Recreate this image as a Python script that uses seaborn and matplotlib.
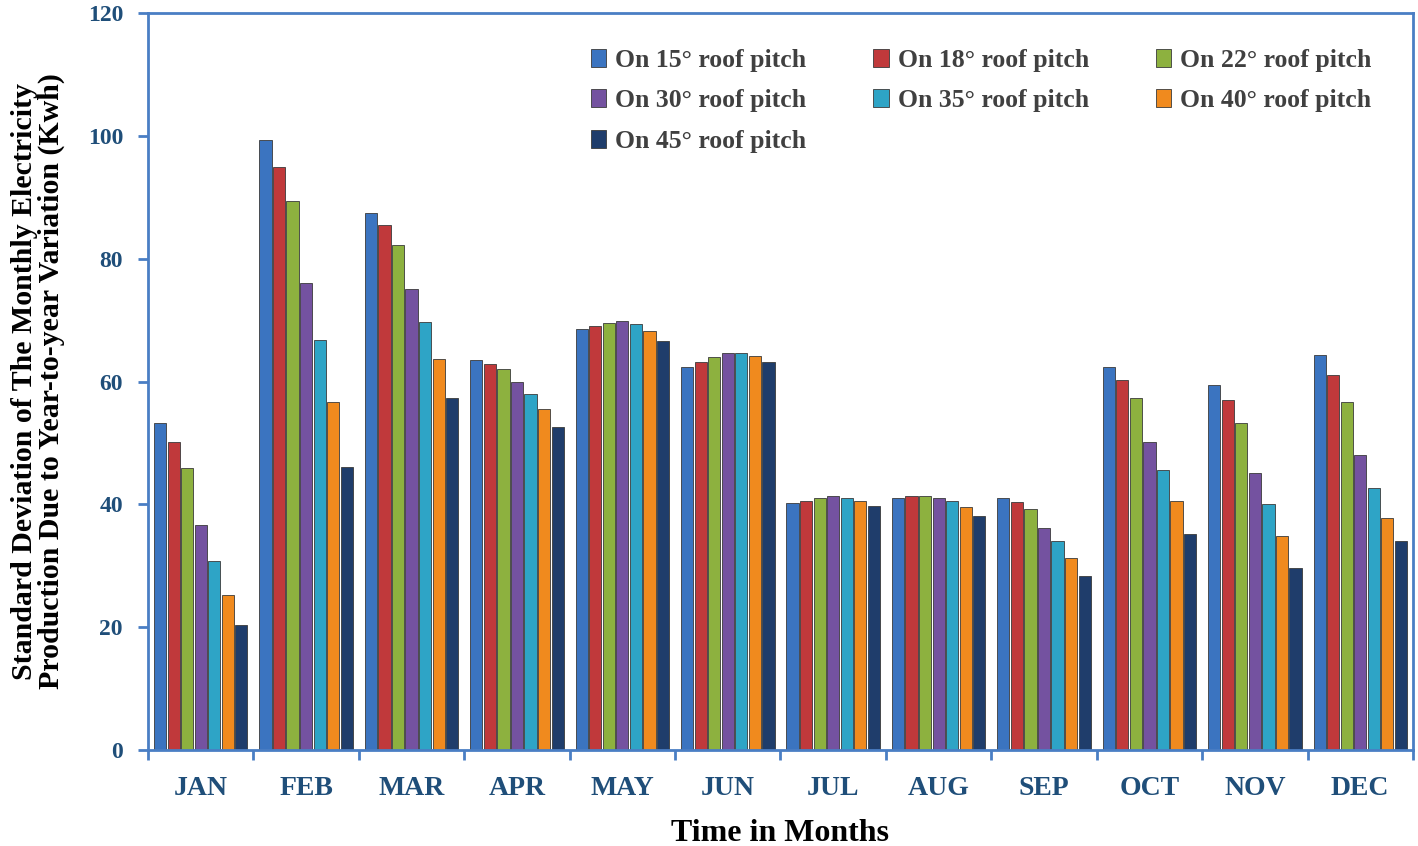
import numpy as np
import pandas as pd
import matplotlib
matplotlib.use("Agg")
import matplotlib.pyplot as plt
import seaborn as sns

months = ["JAN", "FEB", "MAR", "APR", "MAY", "JUN", "JUL", "AUG", "SEP", "OCT", "NOV", "DEC"]
series_names = ["On 15° roof pitch", "On 18° roof pitch", "On 22° roof pitch",
                "On 30° roof pitch", "On 35° roof pitch", "On 40° roof pitch",
                "On 45° roof pitch"]

pitch15 = [53.2, 99.3, 87.4, 63.5, 68.5, 62.4, 40.2, 41.1, 41.1, 62.4, 59.4, 64.3]
pitch18 = [50.2, 95.0, 85.5, 62.8, 69.1, 63.2, 40.5, 41.4, 40.3, 60.2, 57.0, 61.1]
pitch22 = [45.9, 89.4, 82.3, 62.1, 69.6, 64.0, 41.1, 41.4, 39.2, 57.3, 53.2, 56.7]
pitch30 = [36.7, 76.1, 75.0, 59.9, 69.9, 64.7, 41.4, 41.1, 36.2, 50.2, 45.1, 48.0]
pitch35 = [30.8, 66.8, 69.7, 58.0, 69.4, 64.7, 41.1, 40.5, 34.0, 45.6, 40.0, 42.6]
pitch40 = [25.2, 56.7, 63.7, 55.6, 68.3, 64.2, 40.5, 39.5, 31.3, 40.5, 34.8, 37.7]
pitch45 = [20.3, 46.1, 57.3, 52.6, 66.6, 63.2, 39.7, 38.1, 28.4, 35.1, 29.7, 34.0]

colors = ["#3B74C0", "#C0393B", "#8DB13F", "#7452A0", "#2EA4C6", "#F08A1E", "#1F3D6B"]

all_series = [pitch15, pitch18, pitch22, pitch30, pitch35, pitch40, pitch45]
rows = []
for name, vals in zip(series_names, all_series):
    for m, v in zip(months, vals):
        rows.append({"Month": m, "Series": name, "Value": v})
df = pd.DataFrame(rows)

sns.set_theme(style="white")
plt.rcParams["font.family"] = ["Liberation Serif", "DejaVu Serif"]

fig = plt.figure(figsize=(14.18, 8.46), dpi=100)
ax = fig.add_axes([148/1418, 1-750/846, (1413-148)/1418, (750-13)/846])

sns.barplot(data=df, x="Month", y="Value", hue="Series", order=months,
            hue_order=series_names, palette=colors, width=0.9, gap=0.1,
            saturation=1, edgecolor="#3a3a3a", linewidth=0.6, ax=ax,
            legend=True)

spine_c = "#4A7EC4"
for s in ax.spines.values():
    s.set_visible(True)
    s.set_color(spine_c)
    s.set_linewidth(2)

ax.set_ylim(0, 120)
ax.set_yticks(np.arange(0, 121, 20))
ax.set_xlim(-0.5, 11.5)
ax.tick_params(axis="y", which="both", direction="out", length=7, width=2,
               color=spine_c, left=True, labelsize=17, labelcolor="#1F4E79", pad=11)
for t in ax.get_yticklabels():
    t.set_fontweight("bold")
ax.set_xticks(np.arange(12))
ax.set_xticklabels(months, fontsize=20, fontweight="bold", color="#1F4E79")
ax.tick_params(axis="x", which="major", length=0, pad=19)
ax.set_xticks(np.arange(-0.5, 12, 1), minor=True)
ax.tick_params(axis="x", which="minor", direction="out", length=7, width=2,
               color=spine_c, bottom=True)

ax.set_xlabel("Time in Months", fontsize=23, fontweight="bold", color="black", labelpad=13)
ax.set_ylabel("Standard Deviation of The Monthly Electricity\nProduction Due to Year-to-year Variation (Kwh)",
              fontsize=21.5, fontweight="bold", color="black", labelpad=16, linespacing=1.0)
ax.grid(False)

handles, labels = ax.get_legend_handles_labels()
order = [0, 3, 6, 1, 4, 2, 5]
leg = ax.legend([handles[i] for i in order], [labels[i] for i in order],
                ncol=3, loc="upper left", bbox_to_anchor=(578/1418, 1-36/846),
                bbox_transform=fig.transFigure, frameon=False,
                handlelength=0.6, handleheight=0.7, handletextpad=0.35,
                columnspacing=2.6, labelspacing=0.68, borderpad=0,
                prop={"family": "Liberation Serif", "weight": "bold", "size": 18.5})
for t in leg.get_texts():
    t.set_color("#404040")

fig.savefig("out.png", dpi=100)
